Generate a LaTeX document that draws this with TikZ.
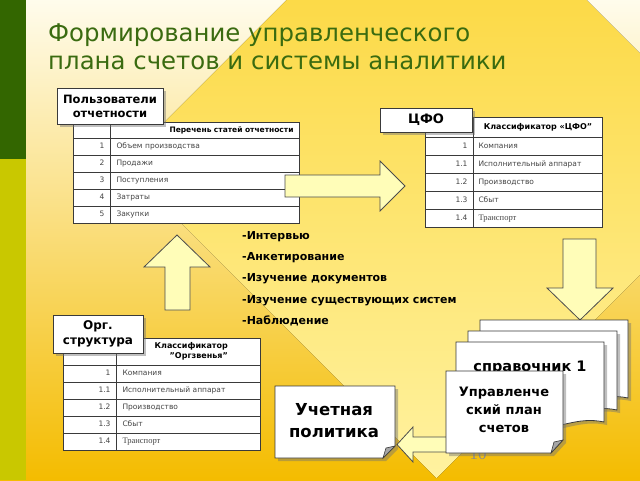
\documentclass[tikz,border=0pt]{standalone}
\usepackage{fontspec}
\setmainfont{DejaVu Sans}
\newfontfamily\serfont{Liberation Serif}
\usetikzlibrary{shadows}
\definecolor{dgreen}{HTML}{336600}
\definecolor{barolive}{HTML}{C9C800}
\definecolor{titlegreen}{HTML}{3A6B10}
\definecolor{creamtop}{HTML}{FFFCEC}
\definecolor{goldbot}{HTML}{F4BC00}
\definecolor{diatop}{HTML}{FBD22C}
\definecolor{diabot}{HTML}{FFF2A0}
\definecolor{arrowfill}{HTML}{FFFDB8}
\definecolor{gridc}{HTML}{3A3A3A}
\definecolor{celltext}{HTML}{454545}
\tikzset{
  every node/.style={inner sep=0pt},
  shad/.style={drop shadow={shadow xshift=3pt, shadow yshift=-3pt, opacity=0.45, fill=black!55}},
  lbl/.style={draw=gridc, fill=white, line width=0.8pt, font=\bfseries\fontsize{11.5}{14}\selectfont, align=center, shad},
  cellbase/.style={draw=gridc, line width=1pt, fill=white, anchor=north west, inner xsep=6pt, inner ysep=0pt, font=\fontsize{7.5}{9}\selectfont, text=celltext, text height=5.6pt, text depth=1.8pt},
  numcell/.style={cellbase, align=right},
  txtcell/.style={cellbase, align=left},
  hdr/.style={font=\bfseries\fontsize{8}{10}\selectfont, text=black},
  blockarrow/.style={draw=black!70, line width=0.8pt, fill=arrowfill, line join=miter},
  page/.style={draw=gridc, line width=0.8pt, fill=white, shad},
  method/.style={anchor=base west, font=\bfseries\fontsize{11}{13}\selectfont, text=black},
  titletext/.style={anchor=base west, text=titlegreen, font=\fontsize{24.4}{28}\selectfont},
  aN/.style={numcell, minimum width=37, text width=25pt, minimum height=17},
  aT/.style={txtcell, minimum width=189, text width=177pt, minimum height=17},
  bN/.style={numcell, minimum width=48, text width=36pt, minimum height=18},
  bT/.style={txtcell, minimum width=129, text width=119pt, inner xsep=5pt, minimum height=18},
  cN/.style={numcell, minimum width=53, text width=41pt, minimum height=17},
  cT/.style={txtcell, minimum width=144, text width=132pt, minimum height=17},
}
\begin{document}
\begin{tikzpicture}[x=1pt,y=-1pt]
\useasboundingbox (0,0) rectangle (640,480);
% background
\fill[top color=creamtop, bottom color=goldbot] (0,0) rectangle (640,480);
\begin{scope}
\clip (0,0) rectangle (640,480);
\fill[top color=diatop, bottom color=diabot] (436.5,-150) -- (750.5,164) -- (436.5,478) -- (122.5,164) -- cycle;
\end{scope}
\fill[dgreen] (0,0) rectangle (26,159);
\fill[barolive] (0,159) rectangle (26,480);
% title
\node[titletext] (title1) at (48,41) {Формирование управленческого};
\node[titletext] (title2) at (48,69) {плана счетов и системы аналитики};
% table 1
\node[aN, minimum height=16] (t1h0) at (73,122) {};
\node[aT, minimum height=16, align=right, hdr, font=\bfseries\fontsize{7.5}{9}\selectfont] (t1h1) at (110,122) {Перечень статей отчетности};
\node[aN] (t1n1) at (73,138) {1};
\node[aT] (t1t1) at (110,138) {Объем производства};
\node[aN] (t1n2) at (73,155) {2};
\node[aT] (t1t2) at (110,155) {Продажи};
\node[aN] (t1n3) at (73,172) {3};
\node[aT] (t1t3) at (110,172) {Поступления};
\node[aN] (t1n4) at (73,189) {4};
\node[aT] (t1t4) at (110,189) {Затраты};
\node[aN] (t1n5) at (73,206) {5};
\node[aT] (t1t5) at (110,206) {Закупки};
% table 2
\node[bN, minimum height=20] (t2h0) at (425,117) {};
\node[bT, minimum height=20, align=center, hdr] (t2h1) at (473,117) {Классификатор «ЦФО"};
\node[bN] (t2n1) at (425,137) {1};
\node[bT] (t2t1) at (473,137) {Компания};
\node[bN] (t2n2) at (425,155) {1.1};
\node[bT] (t2t2) at (473,155) {Исполнительный аппарат};
\node[bN] (t2n3) at (425,173) {1.2};
\node[bT] (t2t3) at (473,173) {Производство};
\node[bN] (t2n4) at (425,191) {1.3};
\node[bT] (t2t4) at (473,191) {Сбыт};
\node[bN] (t2n5) at (425,209) {1.4};
\node[bT, font=\serfont\fontsize{8.5}{9}\selectfont] (t2t5) at (473,209) {Транспорт};
% table 3
\node[cN, minimum height=27] (t3h0) at (63,338) {};
\node[cT, minimum height=27] (t3h1) at (116,338) {};
\node[hdr, align=right, anchor=east] (t3hl) at (228,351.5) {Классификатор\\"Оргзвенья"};
\node[cN] (t3n1) at (63,365) {1};
\node[cT] (t3t1) at (116,365) {Компания};
\node[cN] (t3n2) at (63,382) {1.1};
\node[cT] (t3t2) at (116,382) {Исполнительный аппарат};
\node[cN] (t3n3) at (63,399) {1.2};
\node[cT] (t3t3) at (116,399) {Производство};
\node[cN] (t3n4) at (63,416) {1.3};
\node[cT] (t3t4) at (116,416) {Сбыт};
\node[cN] (t3n5) at (63,433) {1.4};
\node[cT, font=\serfont\fontsize{8.5}{9}\selectfont] (t3t5) at (116,433) {Транспорт};
% block arrows
\path[blockarrow] (285,175) -- (380,175) -- (380,161) -- (405,186) -- (380,211) -- (380,197) -- (285,197) -- cycle;
\path[blockarrow] (177,235) -- (210,267) -- (190,267) -- (190,310) -- (165,310) -- (165,267) -- (144,267) -- cycle;
\path[blockarrow] (563,239) -- (596,239) -- (596,288) -- (613,288) -- (580,320) -- (547,288) -- (563,288) -- cycle;
% labels
\node[lbl, minimum width=106, minimum height=36] (users) at (110,106) {Пользователи\\отчетности};
\node[lbl, minimum width=92, minimum height=24, font=\bfseries\fontsize{13}{15}\selectfont] (cfo) at (426,120) {ЦФО};
\node[lbl, minimum width=90, minimum height=38, font=\bfseries\fontsize{12}{15}\selectfont] (org) at (98,334) {Орг.\\структура};
% methods
\node[method] (m1) at (242,239) {-Интервью};
\node[method] (m2) at (242,260) {-Анкетирование};
\node[method] (m3) at (242,281) {-Изучение документов};
\node[method] (m4) at (242,303) {-Изучение существующих систем};
\node[method] (m5) at (242,324) {-Наблюдение};
% stacked pages
\path[page] (480,320) -- (628,320) -- (628,398) .. controls (600,392) and (585,406) .. (555,403) .. controls (525,400) and (500,402) .. (480,404) -- cycle;
\path[page] (468,331) -- (617,331) -- (617,410) .. controls (589,404) and (574,418) .. (544,415) .. controls (514,412) and (489,414) .. (468,416) -- cycle;
\path[page] (456,342) -- (604,342) -- (604,422) .. controls (576,416) and (561,430) .. (531,427) .. controls (501,424) and (476,426) .. (456,428) -- cycle;
\node[font=\bfseries\fontsize{14.5}{16}\selectfont] (ref1) at (530,368) {справочник 1};
% accounting policy
\path[page] (275,386) -- (395,386) -- (395,446) -- (383,458) -- (275,458) -- cycle;
\filldraw[fill=black!35, draw=gridc, line width=0.6pt] (395,446) -- (383,458) -- (386,448) -- cycle;
\node[font=\bfseries\fontsize{16.5}{22}\selectfont, align=center] (policy) at (334,421) {Учетная\\политика};
% left arrow
\path[blockarrow] (397,444.5) -- (413,427) -- (413,437) -- (452,437) -- (452,452) -- (413,452) -- (413,462) -- cycle;
\node[anchor=base, font=\serfont\fontsize{17}{17}\selectfont, text=black!45] (pnum) at (478,459) {10};
% note
\path[page] (446,371) -- (563,371) -- (563,440) -- (551,453) -- (446,453) -- cycle;
\filldraw[fill=black!35, draw=gridc, line width=0.6pt] (563,440) -- (551,453) -- (554,442) -- cycle;
\node[font=\bfseries\fontsize{13}{18}\selectfont, align=center] (plan) at (504,410) {Управленче\\ский план\\счетов};
\end{tikzpicture}
\end{document}
